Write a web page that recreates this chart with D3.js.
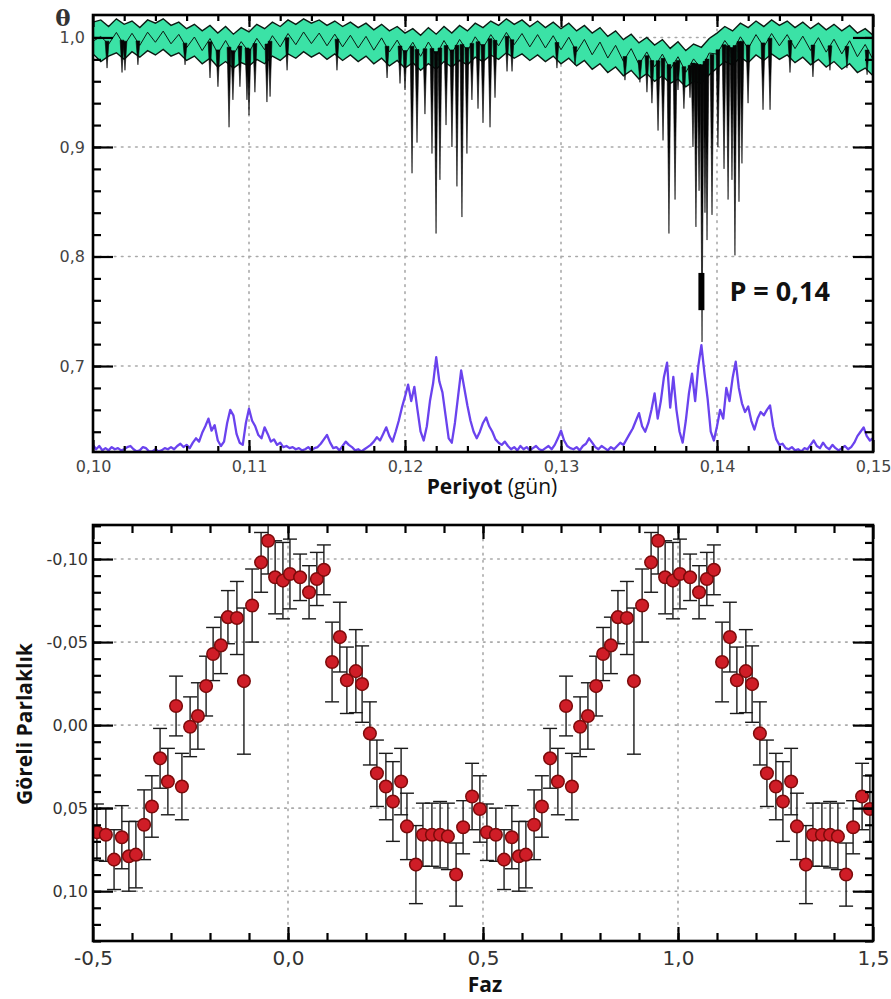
<!DOCTYPE html>
<html>
<head>
<meta charset="utf-8">
<script src="https://cdn.jsdelivr.net/npm/d3@7"></script>
<style>
  body { margin: 0; background: #fff; }
  svg { display: block; }
</style>
</head>
<body>
<svg id="chart" width="891" height="999"></svg>
<script>
// ---------- Periodogram data (period in days) ----------
const periodDomain = [0.10, 0.15];
const periodTicks = [0.10, 0.11, 0.12, 0.13, 0.14, 0.15];
const thetaTicks = [0.7, 0.8, 0.9, 1.0];

// Scaled power curve, sampled every 0.0002 d from 0.1000 d
const powerStart = 0.100;
const powerStep = 0.0002;
const powerValues = [
  0.628,0.624,0.627,0.623,0.625,0.623,0.626,0.624,0.625,0.623,
  0.624,0.626,0.627,0.624,0.622,0.623,0.626,0.625,0.622,0.622,
  0.624,0.622,0.623,0.625,0.624,0.626,0.624,0.627,0.629,0.626,
  0.628,0.625,0.630,0.634,0.631,0.639,0.645,0.652,0.641,0.646,
  0.632,0.627,0.631,0.648,0.660,0.655,0.638,0.630,0.628,0.648,
  0.661,0.650,0.645,0.637,0.634,0.644,0.638,0.631,0.633,0.628,
  0.630,0.626,0.627,0.625,0.626,0.624,0.625,0.623,0.624,0.626,
  0.623,0.625,0.626,0.629,0.633,0.637,0.630,0.625,0.626,0.623,
  0.627,0.631,0.628,0.626,0.623,0.624,0.622,0.624,0.626,0.628,
  0.631,0.635,0.632,0.638,0.644,0.636,0.631,0.640,0.650,0.662,
  0.672,0.683,0.668,0.681,0.660,0.640,0.632,0.645,0.668,0.684,
  0.708,0.686,0.676,0.655,0.634,0.630,0.648,0.672,0.696,0.680,
  0.664,0.650,0.640,0.634,0.640,0.648,0.653,0.645,0.640,0.633,
  0.630,0.628,0.631,0.627,0.624,0.626,0.623,0.627,0.624,0.626,
  0.623,0.625,0.627,0.624,0.623,0.625,0.627,0.624,0.628,0.634,
  0.641,0.632,0.627,0.625,0.624,0.626,0.623,0.627,0.629,0.634,
  0.630,0.626,0.624,0.627,0.625,0.623,0.626,0.624,0.627,0.630,
  0.628,0.633,0.638,0.643,0.650,0.657,0.645,0.640,0.648,0.660,
  0.675,0.652,0.668,0.690,0.703,0.662,0.690,0.660,0.640,0.630,
  0.650,0.675,0.693,0.668,0.700,0.719,0.693,0.670,0.640,0.632,
  0.645,0.660,0.652,0.680,0.668,0.689,0.704,0.680,0.666,0.658,
  0.663,0.650,0.642,0.652,0.658,0.655,0.660,0.664,0.645,0.633,
  0.628,0.629,0.625,0.624,0.626,0.623,0.624,0.622,0.625,0.624,
  0.628,0.632,0.627,0.625,0.630,0.626,0.624,0.628,0.625,0.623,
  0.625,0.627,0.624,0.626,0.630,0.636,0.640,0.644,0.636,0.632,
  0.634
];

// Theta band envelope, sampled every 0.0005 d from 0.1000 d
const bandStart = 0.100;
const bandStep = 0.0005;
const bandUpper = [
  1.014,1.016,1.010,1.017,1.012,1.015,1.009,1.016,1.013,1.017,
  1.011,1.014,1.008,1.012,1.006,1.011,1.004,1.010,1.003,1.009,
  1.005,1.012,1.008,1.014,1.010,1.016,1.012,1.017,1.013,1.016,
  1.011,1.015,1.010,1.014,1.009,1.013,1.007,1.012,1.006,1.010,
  1.004,1.008,1.002,1.009,1.003,1.010,1.004,1.011,1.006,1.013,
  1.009,1.015,1.011,1.017,1.012,1.016,1.010,1.015,1.009,1.014,
  1.008,1.013,1.006,1.011,1.004,1.009,1.001,1.006,0.998,1.003,
  0.995,1.000,0.993,0.998,0.990,0.996,0.988,0.994,0.991,0.999,
  1.004,1.010,1.006,1.013,1.009,1.015,1.010,1.016,1.011,1.015,
  1.009,1.014,1.008,1.013,1.007,1.012,1.006,1.011,1.004,1.008,
  1.002
];
const bandLower = [
  0.985,0.978,0.983,0.986,0.980,0.987,0.982,0.988,0.984,0.989,
  0.983,0.986,0.979,0.983,0.976,0.981,0.973,0.978,0.972,0.977,
  0.974,0.980,0.976,0.983,0.979,0.985,0.981,0.987,0.982,0.986,
  0.980,0.985,0.979,0.984,0.978,0.983,0.976,0.981,0.974,0.979,
  0.972,0.977,0.970,0.976,0.971,0.978,0.973,0.979,0.975,0.982,
  0.978,0.984,0.980,0.986,0.981,0.985,0.979,0.984,0.978,0.983,
  0.976,0.981,0.974,0.979,0.971,0.976,0.968,0.973,0.965,0.970,
  0.962,0.967,0.960,0.965,0.958,0.962,0.955,0.960,0.958,0.966,
  0.972,0.978,0.975,0.982,0.977,0.984,0.979,0.985,0.980,0.984,
  0.977,0.982,0.975,0.980,0.973,0.978,0.971,0.976,0.968,0.972,
  0.965
];

// Theta minima: [period, theta]
const thetaDips = [
  [0.10090,0.972],[0.10186,0.968],[0.10205,0.970],[0.10288,0.975],[0.10590,0.975],
  [0.10750,0.963],[0.10801,0.955],[0.10872,0.918],[0.10897,0.943],[0.10942,0.955],
  [0.10987,0.943],[0.11000,0.929],[0.11038,0.950],[0.11115,0.941],[0.11135,0.946],
  [0.11244,0.970],[0.11564,0.970],[0.11885,0.963],[0.11968,0.958],[0.12000,0.952],
  [0.12045,0.876],[0.12077,0.904],[0.12128,0.930],[0.12173,0.894],[0.12199,0.821],
  [0.12224,0.870],[0.12263,0.920],[0.12301,0.900],[0.12333,0.864],[0.12365,0.836],
  [0.12397,0.894],[0.12429,0.943],[0.12468,0.935],[0.12500,0.922],[0.12545,0.918],
  [0.12577,0.945],[0.12654,0.969],[0.12686,0.969],[0.12974,0.972],[0.13090,0.975],
  [0.13410,0.961],[0.13506,0.959],[0.13551,0.950],[0.13583,0.940],[0.13622,0.915],
  [0.13654,0.906],[0.13692,0.821],[0.13731,0.852],[0.13750,0.952],[0.13788,0.935],
  [0.13827,0.945],[0.13846,0.900],[0.13865,0.827],[0.13885,0.860],[0.13904,0.722],
  [0.13923,0.840],[0.13936,0.815],[0.13968,0.838],[0.14006,0.900],[0.14045,0.880],
  [0.14071,0.852],[0.14096,0.870],[0.14115,0.801],[0.14141,0.850],[0.14160,0.885],
  [0.14199,0.940],[0.14295,0.934],[0.14340,0.934],[0.14468,0.968],[0.14615,0.964],
  [0.14724,0.970],[0.14833,0.972],[0.14962,0.966]
];

const bestPeriod = 0.139;
const bestRange = [0.751, 0.785];
const bestLabel = "P = 0,14";

// ---------- Phase-folded light curve ----------
const phaseTicks = [-0.5, 0.0, 0.5, 1.0, 1.5];
const magTicks = [-0.10, -0.05, 0.00, 0.05, 0.10];
const phases = [
  -0.490,-0.467,-0.446,-0.426,-0.408,-0.390,-0.369,-0.349,-0.328,-0.308,
  -0.287,-0.272,-0.251,-0.231,-0.210,-0.192,-0.172,-0.154,-0.131,-0.113,
  -0.092,-0.069,-0.051,-0.033,-0.013, 0.005, 0.031, 0.054, 0.074, 0.092,
   0.113, 0.133, 0.151, 0.174, 0.190, 0.210, 0.228, 0.251, 0.269, 0.290,
   0.305, 0.328, 0.346, 0.369, 0.390, 0.410, 0.431, 0.449, 0.472, 0.492
];
const mags = [
   0.0645, 0.066, 0.081, 0.0675, 0.079, 0.078, 0.060, 0.049, 0.020, 0.034,
  -0.0115, 0.037, 0.001,-0.0055,-0.0235,-0.0428,-0.048,-0.065,-0.0645,-0.0265,
  -0.072,-0.098,-0.111,-0.089,-0.087,-0.091,-0.089,-0.080,-0.088,-0.0935,
  -0.038,-0.053,-0.027,-0.0325,-0.0247, 0.005, 0.029, 0.037, 0.046, 0.034,
   0.061, 0.084, 0.066, 0.066, 0.066, 0.067, 0.090, 0.0615, 0.043, 0.0505
];
const magErrors = [
  0.017,0.016,0.018,0.019,0.021,0.020,0.021,0.0185,0.018,0.020,
  0.018,0.020,0.018,0.020,0.018,0.016,0.017,0.016,0.022,0.044,
  0.022,0.018,0.020,0.022,0.023,0.021,0.014,0.016,0.016,0.015,
  0.024,0.021,0.020,0.025,0.023,0.019,0.020,0.020,0.024,0.020,
  0.020,0.0235,0.019,0.019,0.020,0.020,0.019,0.016,0.020,0.020
];
const foldCycles = [0, 1];

// ---------- Drawing ----------
const svg = d3.select("#chart");
svg.append("rect").attr("width", 891).attr("height", 999).attr("fill", "#fff");

const tickFont = "'DejaVu Sans', Verdana, sans-serif";
const titleFont = "'Open Sans', 'Noto Sans', sans-serif";
const commaFmt = f => d => d3.format(f)(d).replace("\u2212", "-").replace(".", ",");

function gridLines(g, xs, ys, x, y, box) {
  g.selectAll(".gv").data(xs).join("line")
    .attr("x1", d => x(d)).attr("x2", d => x(d))
    .attr("y1", box.t).attr("y2", box.b);
  g.selectAll(".gh").data(ys).join("line")
    .attr("x1", box.l).attr("x2", box.r)
    .attr("y1", d => y(d)).attr("y2", d => y(d));
  g.selectAll("line")
    .attr("stroke", "#a9a9a9").attr("stroke-width", 1.6)
    .attr("stroke-dasharray", "1.6,5.5").attr("stroke-linecap", "round");
}

function styleAxis(g, fontSize, color) {
  g.select(".domain").remove();
  g.selectAll(".tick line").attr("stroke", "#000").attr("stroke-width", 2.2);
  g.selectAll(".tick text").attr("font-family", tickFont)
    .attr("font-size", fontSize).attr("fill", color);
}

// ===== Top panel: theta periodogram =====
const T = { l: 93, r: 873, t: 15, b: 452 };
const xP = d3.scaleLinear().domain(periodDomain).range([T.l, T.r]);
const yT = d3.scaleLinear().domain([0.6215, 1.0205]).range([T.b, T.t]);

svg.append("clipPath").attr("id", "clipTop")
  .append("rect").attr("x", T.l).attr("y", T.t).attr("width", T.r - T.l).attr("height", T.b - T.t);

gridLines(svg.append("g"), periodTicks.slice(1, -1), thetaTicks, xP, yT, T);

const topPlot = svg.append("g").attr("clip-path", "url(#clipTop)");

const bandData = bandUpper.map((u, i) => ({ p: bandStart + i * bandStep, u, lo: bandLower[i] }));
topPlot.append("path").datum(bandData)
  .attr("fill", "#3be2a6")
  .attr("d", d3.area().x(d => xP(d.p)).y0(d => yT(d.lo)).y1(d => yT(d.u)));
topPlot.append("path").datum(bandData)
  .attr("fill", "none").attr("stroke", "#0b1a12").attr("stroke-width", 1.4)
  .attr("d", d3.line().x(d => xP(d.p)).y(d => yT(d.u)));
topPlot.append("path").datum(bandData)
  .attr("fill", "none").attr("stroke", "#0b1a12").attr("stroke-width", 1.4)
  .attr("d", d3.line().x(d => xP(d.p)).y(d => yT(d.lo)));
// midline of the band, traced from both envelopes
topPlot.append("path").datum(bandData)
  .attr("fill", "none").attr("stroke", "#0b1a12").attr("stroke-width", 1.0)
  .attr("d", d3.line().x(d => xP(d.p)).y((d, i) => yT(i % 2 ? (d.u * 0.6 + d.lo * 0.4) : (d.u * 0.4 + d.lo * 0.6))));

function bandAt(arr, p) {
  const f = (p - bandStart) / bandStep;
  const i = Math.max(0, Math.min(arr.length - 2, Math.floor(f)));
  return d3.interpolateNumber(arr[i], arr[i + 1])(f - i);
}
const dipHalf = 1.9;
topPlot.selectAll(".dip").data(thetaDips).join("path")
  .attr("fill", "#050505").attr("stroke", "#050505").attr("stroke-width", 0.6)
  .attr("d", d => {
    const x = xP(d[0]);
    const yTop = yT((bandAt(bandUpper, d[0]) + bandAt(bandLower, d[0])) / 2);
    const yBot = yT(d[1]);
    return `M${x - dipHalf},${yTop}L${x},${yBot}L${x + dipHalf},${yTop}Z`;
  });

const powerData = powerValues.map((v, i) => ({ p: powerStart + i * powerStep, v }));
topPlot.append("path").datum(powerData)
  .attr("fill", "none").attr("stroke", "#6a43ee").attr("stroke-width", 2.3)
  .attr("stroke-linejoin", "round")
  .attr("d", d3.line().x(d => xP(d.p)).y(d => yT(d.v)));

// Best-period marker
svg.append("line")
  .attr("x1", xP(bestPeriod)).attr("x2", xP(bestPeriod))
  .attr("y1", yT(bestRange[0])).attr("y2", yT(bestRange[1]))
  .attr("stroke", "#000").attr("stroke-width", 6);
svg.append("text")
  .attr("x", xP(bestPeriod) + 28).attr("y", yT((bestRange[0] + bestRange[1]) / 2) + 9)
  .attr("font-family", titleFont).attr("font-weight", 700).attr("font-size", 27)
  .attr("fill", "#111").text(bestLabel);

// Axes (ticks point inward)
const minorPeriods = d3.range(0.102, 0.1499, 0.002);
const minorTheta = d3.range(0.64, 1.01, 0.02);
styleAxis(svg.append("g").attr("transform", `translate(0,${T.b})`)
  .call(d3.axisBottom(xP).tickValues(periodTicks).tickSize(-12).tickPadding(9).tickFormat(commaFmt(".2f"))), 16, "#444");
styleAxis(svg.append("g").attr("transform", `translate(0,${T.b})`)
  .call(d3.axisBottom(xP).tickValues(minorPeriods).tickSize(-6).tickFormat("")), 16, "#444");
styleAxis(svg.append("g").attr("transform", `translate(0,${T.t})`)
  .call(d3.axisTop(xP).tickValues(periodTicks).tickSize(-12).tickFormat("")), 16, "#444");
styleAxis(svg.append("g").attr("transform", `translate(0,${T.t})`)
  .call(d3.axisTop(xP).tickValues(minorPeriods).tickSize(-6).tickFormat("")), 16, "#444");
styleAxis(svg.append("g").attr("transform", `translate(${T.l},0)`)
  .call(d3.axisLeft(yT).tickValues(thetaTicks).tickSize(-20).tickPadding(8).tickFormat(commaFmt(".1f"))), 16, "#444");
styleAxis(svg.append("g").attr("transform", `translate(${T.l},0)`)
  .call(d3.axisLeft(yT).tickValues(minorTheta).tickSize(-8).tickFormat("")), 16, "#444");
styleAxis(svg.append("g").attr("transform", `translate(${T.r},0)`)
  .call(d3.axisRight(yT).tickValues(thetaTicks).tickSize(-20).tickFormat("")), 16, "#444");
styleAxis(svg.append("g").attr("transform", `translate(${T.r},0)`)
  .call(d3.axisRight(yT).tickValues(minorTheta).tickSize(-8).tickFormat("")), 16, "#444");

svg.append("rect").attr("x", T.l).attr("y", T.t).attr("width", T.r - T.l).attr("height", T.b - T.t)
  .attr("fill", "none").attr("stroke", "#000").attr("stroke-width", 2.6);

svg.append("text").attr("x", 63).attr("y", 26).attr("text-anchor", "middle")
  .attr("font-family", "'DejaVu Serif', serif").attr("font-weight", 700).attr("font-size", 23).attr("fill", "#333")
  .text("\u03b8");

const pTitle = svg.append("text").attr("x", 492).attr("y", 494).attr("text-anchor", "middle")
  .attr("font-family", titleFont).attr("font-size", 21).attr("fill", "#111");
pTitle.append("tspan").attr("font-weight", 700).text("Periyot");
pTitle.append("tspan").text(" (gün)");

// ===== Bottom panel: phase diagram =====
const B = { l: 93, r: 873, t: 525, b: 941 };
const xF = d3.scaleLinear().domain([-0.5, 1.5]).range([B.l, B.r]);
const yM = d3.scaleLinear().domain([-0.1205, 0.130]).range([B.t, B.b]);

svg.append("clipPath").attr("id", "clipBot")
  .append("rect").attr("x", B.l).attr("y", B.t).attr("width", B.r - B.l).attr("height", B.b - B.t);

gridLines(svg.append("g"), phaseTicks.slice(1, -1), magTicks, xF, yM, B);

const folded = foldCycles.flatMap(c => phases.map((p, i) => ({ x: p + c, m: mags[i], e: magErrors[i] })))
  .filter(d => d.x >= -0.5 && d.x <= 1.5);

const botPlot = svg.append("g").attr("clip-path", "url(#clipBot)");
const capHalf = 7;
const bars = botPlot.selectAll(".err").data(folded).join("g")
  .attr("stroke", "#1a1a1a").attr("stroke-width", 1.4);
bars.append("line").attr("x1", d => xF(d.x)).attr("x2", d => xF(d.x))
  .attr("y1", d => yM(d.m - d.e)).attr("y2", d => yM(d.m + d.e));
bars.append("line").attr("x1", d => xF(d.x) - capHalf).attr("x2", d => xF(d.x) + capHalf)
  .attr("y1", d => yM(d.m - d.e)).attr("y2", d => yM(d.m - d.e));
bars.append("line").attr("x1", d => xF(d.x) - capHalf).attr("x2", d => xF(d.x) + capHalf)
  .attr("y1", d => yM(d.m + d.e)).attr("y2", d => yM(d.m + d.e));

botPlot.selectAll(".pt").data(folded).join("circle")
  .attr("cx", d => xF(d.x)).attr("cy", d => yM(d.m)).attr("r", 6.3)
  .attr("fill", "#cf1d27").attr("stroke", "#7c0b0b").attr("stroke-width", 1.5);

const minorPhase = d3.range(-0.4, 1.45, 0.1);
const minorMag = d3.range(-0.12, 0.1301, 0.01);
styleAxis(svg.append("g").attr("transform", `translate(0,${B.b})`)
  .call(d3.axisBottom(xF).tickValues(phaseTicks).tickSize(-14).tickPadding(10).tickFormat(commaFmt(".1f"))), 20, "#333");
styleAxis(svg.append("g").attr("transform", `translate(0,${B.b})`)
  .call(d3.axisBottom(xF).tickValues(minorPhase).tickSize(-8).tickFormat("")), 20, "#333");
styleAxis(svg.append("g").attr("transform", `translate(0,${B.t})`)
  .call(d3.axisTop(xF).tickValues(phaseTicks).tickSize(-14).tickFormat("")), 20, "#333");
styleAxis(svg.append("g").attr("transform", `translate(0,${B.t})`)
  .call(d3.axisTop(xF).tickValues(minorPhase).tickSize(-8).tickFormat("")), 20, "#333");
styleAxis(svg.append("g").attr("transform", `translate(${B.l},0)`)
  .call(d3.axisLeft(yM).tickValues(magTicks).tickSize(-20).tickPadding(5).tickFormat(commaFmt(".2f"))), 16, "#333");
styleAxis(svg.append("g").attr("transform", `translate(${B.l},0)`)
  .call(d3.axisLeft(yM).tickValues(minorMag).tickSize(-8).tickFormat("")), 16, "#333");
styleAxis(svg.append("g").attr("transform", `translate(${B.r},0)`)
  .call(d3.axisRight(yM).tickValues(magTicks).tickSize(-20).tickFormat("")), 16, "#333");
styleAxis(svg.append("g").attr("transform", `translate(${B.r},0)`)
  .call(d3.axisRight(yM).tickValues(minorMag).tickSize(-8).tickFormat("")), 16, "#333");

svg.append("rect").attr("x", B.l).attr("y", B.t).attr("width", B.r - B.l).attr("height", B.b - B.t)
  .attr("fill", "none").attr("stroke", "#000").attr("stroke-width", 2.6);

svg.append("text").attr("x", 485).attr("y", 992).attr("text-anchor", "middle")
  .attr("font-family", titleFont).attr("font-weight", 700).attr("font-size", 21).attr("fill", "#111")
  .text("Faz");
svg.append("text").attr("transform", "translate(32,724) rotate(-90)").attr("text-anchor", "middle")
  .attr("font-family", titleFont).attr("font-weight", 700).attr("font-size", 21).attr("fill", "#111")
  .text("Göreli Parlaklık");
</script>
</body>
</html>
